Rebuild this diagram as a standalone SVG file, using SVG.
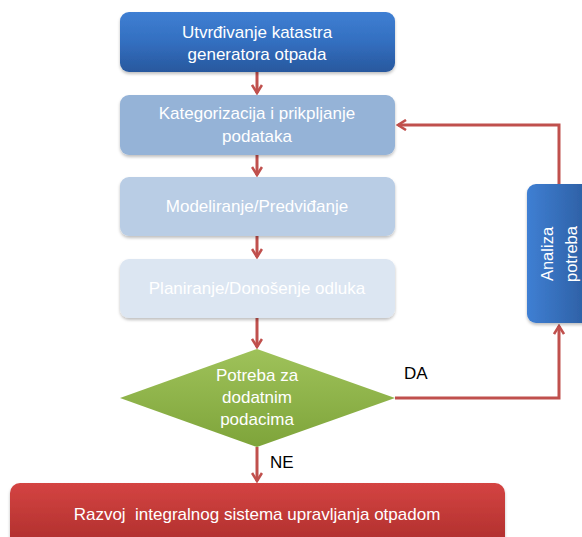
<svg xmlns="http://www.w3.org/2000/svg" width="582" height="537" viewBox="0 0 582 537">
<defs>
<linearGradient id="gBlue" x1="0" y1="0" x2="0" y2="1">
<stop offset="0" stop-color="#3f7fd3"/>
<stop offset="0.5" stop-color="#336fc0"/>
<stop offset="1" stop-color="#28589e"/>
</linearGradient>
<linearGradient id="gSide" x1="0" y1="0" x2="1" y2="0">
<stop offset="0" stop-color="#3f7fd3"/>
<stop offset="1" stop-color="#2a5a9c"/>
</linearGradient>
<linearGradient id="gGreen" x1="0" y1="0" x2="0" y2="1">
<stop offset="0" stop-color="#9fc25a"/>
<stop offset="1" stop-color="#7ea43a"/>
</linearGradient>
<linearGradient id="gRed" x1="0" y1="0" x2="0" y2="1">
<stop offset="0" stop-color="#d44442"/>
<stop offset="1" stop-color="#aa2c2a"/>
</linearGradient>
<filter id="sh" x="-10%" y="-10%" width="120%" height="130%">
<feDropShadow dx="0" dy="2" stdDeviation="1.5" flood-color="#000" flood-opacity="0.25"/>
</filter>
<marker id="ah" viewBox="0 0 12 12" refX="10" refY="6" markerWidth="12" markerHeight="12" markerUnits="userSpaceOnUse" orient="auto">
<path d="M2,1 L10,6 L2,11" fill="none" stroke="#c0504d" stroke-width="2.6"/>
</marker>
<style>
.t{font-family:"Liberation Sans",Arial,sans-serif;font-size:17px;fill:#fff;text-anchor:middle}
.s{font-size:16.5px}
.l{font-family:"Liberation Sans",Arial,sans-serif;font-size:17px;fill:#000}
.c{fill:none;stroke:#c0504d;stroke-width:3}
</style>
</defs>
<g id="connectors">
<line class="c" x1="257" y1="72" x2="257" y2="93" marker-end="url(#ah)"/>
<line class="c" x1="257" y1="155" x2="257" y2="175" marker-end="url(#ah)"/>
<line class="c" x1="257" y1="236" x2="257" y2="257" marker-end="url(#ah)"/>
<line class="c" x1="257" y1="318" x2="257" y2="347" marker-end="url(#ah)"/>
<line class="c" x1="257" y1="447" x2="257" y2="481" marker-end="url(#ah)"/>
<polyline class="c" points="395,398 559,398 559,326" marker-end="url(#ah)"/>
<polyline class="c" points="559,184 559,125 398,125" marker-end="url(#ah)"/>
<text class="l" x="404" y="379">DA</text>
<text class="l" x="270" y="468">NE</text>
</g>
<g id="n1">
<rect x="120" y="12" width="275" height="60" rx="9" fill="url(#gBlue)" filter="url(#sh)"/>
<text class="t" x="257" y="38">Utvrđivanje katastra</text>
<text class="t" x="257" y="60">generatora otpada</text>
</g>
<g id="n2">
<rect x="120" y="95" width="275" height="60" rx="9" fill="#95b3d7" filter="url(#sh)"/>
<text class="t" x="257" y="119">Kategorizacija i prikpljanje</text>
<text class="t" x="257" y="142">podataka</text>
</g>
<g id="n3">
<rect x="120" y="177" width="275" height="59" rx="9" fill="#b9cde5" filter="url(#sh)"/>
<text class="t" x="257" y="212">Modeliranje/Predviđanje</text>
</g>
<g id="n4">
<rect x="120" y="259" width="275" height="59" rx="9" fill="#dce6f2" filter="url(#sh)"/>
<text class="t" x="257" y="294">Planiranje/Donošenje odluka</text>
</g>
<g id="n5">
<polygon points="257,349 395,398 257,447 120,398" fill="url(#gGreen)"/>
<text class="t" x="257" y="381">Potreba za</text>
<text class="t" x="257" y="403">dodatnim</text>
<text class="t" x="257" y="425">podacima</text>
</g>
<g id="n6">
<rect x="527" y="184" width="70" height="139" rx="9" fill="url(#gSide)" filter="url(#sh)"/>
<text class="t s" transform="translate(553,254) rotate(-90)">Analiza</text>
<text class="t s" transform="translate(577,254) rotate(-90)">potreba</text>
</g>
<g id="n7">
<rect x="10" y="483" width="495" height="70" rx="10" fill="url(#gRed)" filter="url(#sh)"/>
<text class="t" x="257" y="520" xml:space="preserve">Razvoj  integralnog sistema upravljanja otpadom</text>
</g>
</svg>
